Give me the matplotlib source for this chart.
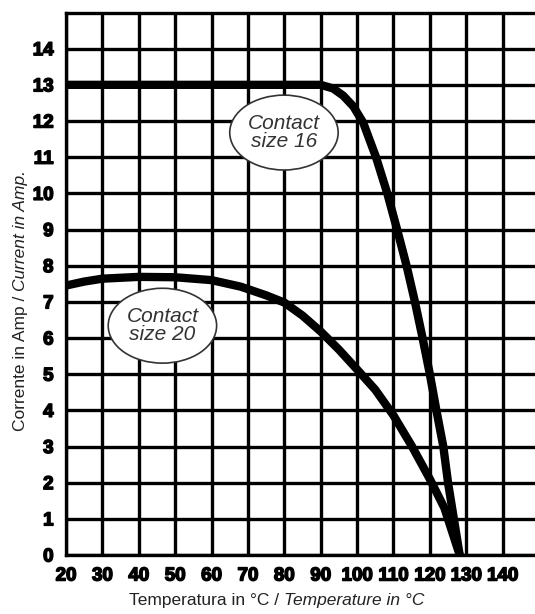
import matplotlib

matplotlib.use("Agg")

import matplotlib.pyplot as plt
import matplotlib.patheffects as pe
from matplotlib.patches import Ellipse


X_TICKS = [20, 30, 40, 50, 60, 70, 80, 90, 100, 110, 120, 130, 140]
Y_TICKS = list(range(0, 15))

# Contact size 16 derating curve
SIZE16_TEMP = [20, 90, 93.4, 96.2, 99.0, 101.7, 105.2, 108.3, 111.0, 113.6,
               115.9, 118.0, 120.0, 121.8, 123.7, 125.0, 126.6, 128.2]
SIZE16_AMP = [13, 13, 12.9, 12.7, 12.4, 11.95, 11, 10, 9, 8,
              7, 6, 5, 4, 3, 2, 1, 0]

# Contact size 20 derating curve
SIZE20_TEMP = [20, 25, 30, 40, 50, 60, 68, 75, 80, 85, 90, 95, 100,
               105, 110, 115, 120, 124, 128.2]
SIZE20_AMP = [7.45, 7.56, 7.64, 7.69, 7.68, 7.60, 7.42, 7.18, 6.98, 6.62,
              6.18, 5.68, 5.13, 4.57, 3.86, 3.02, 2.1, 1.3, 0]

LABELS = ["Contact\nsize 16", "Contact\nsize 20"]
LABEL_POS = [(79.9, 11.68), (46.5, 6.34)]

FONT = "Liberation Sans"


def draw_chart():
    fig = plt.figure(figsize=(5.35, 6.14), dpi=100)
    ax = fig.add_axes([66 / 535, 59 / 614, 473 / 535, 542.5 / 614])

    ax.set_xlim(20, 150)
    ax.set_ylim(0, 15)
    ax.set_xticks(X_TICKS)
    ax.set_yticks(Y_TICKS)
    heavy = [pe.withStroke(linewidth=1.1, foreground="black")]
    ax.set_xticklabels([str(t) for t in X_TICKS], fontfamily=FONT,
                       fontweight="bold", fontsize=13.5, path_effects=heavy)
    ax.set_yticklabels([str(t) for t in Y_TICKS], fontfamily=FONT,
                       fontweight="bold", fontsize=13.5, path_effects=heavy)
    ax.tick_params(length=0)
    ax.tick_params(axis="x", pad=9)
    ax.tick_params(axis="y", pad=9)

    ax.grid(True, color="black", linewidth=2.4)
    ax.set_axisbelow(True)
    for spine in ax.spines.values():
        spine.set_linewidth(2.4)

    ax.plot(SIZE16_TEMP, SIZE16_AMP, color="black", linewidth=6,
            solid_capstyle="butt", solid_joinstyle="round", zorder=3)
    ax.plot(SIZE20_TEMP, SIZE20_AMP, color="black", linewidth=6,
            solid_capstyle="butt", solid_joinstyle="round", zorder=3)

    for text, (x, y) in zip(LABELS, LABEL_POS):
        ax.add_patch(Ellipse((x, y), 29.8, 2.07, facecolor="white",
                             edgecolor="#333333", linewidth=1.2, zorder=4))
        ax.text(x, y, text, ha="center", va="center", fontsize=15,
                fontfamily=FONT, style="italic", color="#333333",
                linespacing=0.95, zorder=5)

    # axis titles: upright Italian part, italic English part
    fig.text(0.531, 0.0147, "Temperatura in °C / ", ha="right", va="baseline",
             fontsize=12.5, fontfamily=FONT, color="#222222")
    fig.text(0.531, 0.0147, "Temperature in °C", ha="left", va="baseline",
             fontsize=12.5, fontfamily=FONT, style="italic", color="#222222")

    fig.text(0.0467, 0.526, "Corrente in Amp / ", ha="right", va="baseline",
             rotation=90, rotation_mode="anchor", fontsize=12.5,
             fontfamily=FONT, color="#222222")
    fig.text(0.0467, 0.526, "Current in Amp.", ha="left", va="baseline",
             rotation=90, rotation_mode="anchor", fontsize=12.5,
             fontfamily=FONT, style="italic", color="#222222")

    fig.savefig("out.png", dpi=100)
    plt.close(fig)


def main():
    draw_chart()


if __name__ == "__main__":
    main()
